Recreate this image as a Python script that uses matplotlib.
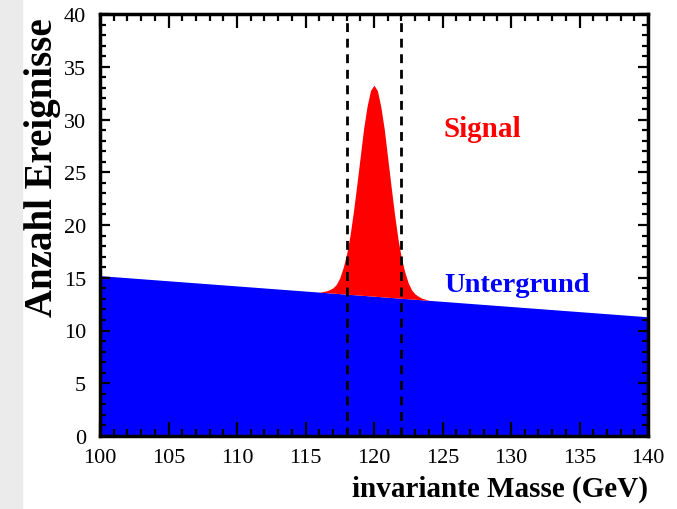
import numpy as np
import matplotlib
matplotlib.use("Agg")
from matplotlib import pyplot as plt
from matplotlib.patches import Rectangle
from matplotlib.ticker import MultipleLocator

# background: straight line across the mass window
bg_mass = [100.0, 140.0]
bg_events = [15.2, 11.3]

# signal peak on top of the background
sig_mass = [116.0, 116.25, 116.5, 116.75, 117.0, 117.25, 117.5, 117.75,
            118.0, 118.25, 118.5, 118.75, 119.0, 119.25, 119.5, 119.75,
            120.0, 120.25, 120.5, 120.75, 121.0, 121.25, 121.5, 121.75,
            122.0, 122.25, 122.5, 122.75, 123.0, 123.25, 123.5, 123.75, 124.0]
sig_events = [0.0, 0.08, 0.15, 0.3, 0.5, 0.85, 1.5, 2.5,
              3.8, 5.6, 7.9, 10.5, 13.2, 15.9, 18.0, 19.5,
              20.0, 19.5, 18.0, 15.9, 13.2, 10.5, 7.9, 5.6,
              3.8, 2.5, 1.5, 0.85, 0.5, 0.3, 0.15, 0.08, 0.0]

window = [118, 122]
x_ticks = [100, 105, 110, 115, 120, 125, 130, 135, 140]
y_ticks = [0, 5, 10, 15, 20, 25, 30, 35, 40]

plt.rcParams['font.family'] = ['Liberation Serif', 'DejaVu Serif']

fig = plt.figure(figsize=(6.77, 5.10), dpi=100)
fig.patches.append(Rectangle((0, 0), 22 / 677, 1, transform=fig.transFigure,
                             color='#ebebeb', zorder=0))
ax = fig.add_axes([100 / 677, 1 - 437 / 510, 548 / 677, 422 / 510])

ax.fill_between(bg_mass, 0, bg_events, color='#0000ff', lw=0, zorder=1)
sig_base = np.interp(sig_mass, bg_mass, bg_events)
ax.fill_between(sig_mass, sig_base, sig_base + np.array(sig_events),
                color='#ff0000', lw=0, zorder=1)

for m in window:
    ax.axvline(m, color='black', lw=2.0, linestyle=(0, (3.2, 2.4)), zorder=3)

ax.text(125.1, 29.1, 'Signal', color='#ff0000', fontsize=21,
        fontweight='bold', va='center', ha='left')
ax.text(125.1, 14.4, 'Untergrund', color='#0000ff', fontsize=20.5,
        fontweight='bold', va='center', ha='left')

ax.set_xlim(100, 140)
ax.set_ylim(0, 40)
ax.set_xticks(x_ticks)
ax.set_yticks(y_ticks)
ax.xaxis.set_minor_locator(MultipleLocator(1))
ax.yaxis.set_minor_locator(MultipleLocator(1))
ax.tick_params(axis='both', which='both', direction='in', top=True, right=True,
               labelsize=16, width=1.6)
ax.tick_params(axis='x', which='major', length=10, pad=9)
ax.tick_params(axis='x', which='minor', length=5)
ax.tick_params(axis='y', which='major', length=7.5, pad=10)
ax.tick_params(axis='y', which='minor', length=4.5)
for s in ax.spines.values():
    s.set_linewidth(2.5)
    s.set_zorder(4)

ax.set_xlabel('invariante Masse (GeV)', fontsize=21, fontweight='bold',
              loc='right', labelpad=5)
ax.set_ylabel('Anzahl Ereignisse', fontsize=28, fontweight='bold',
              loc='top', labelpad=2)
ax.yaxis.set_label_coords(-0.072, 0.993)

fig.savefig('out.png', dpi=100)
